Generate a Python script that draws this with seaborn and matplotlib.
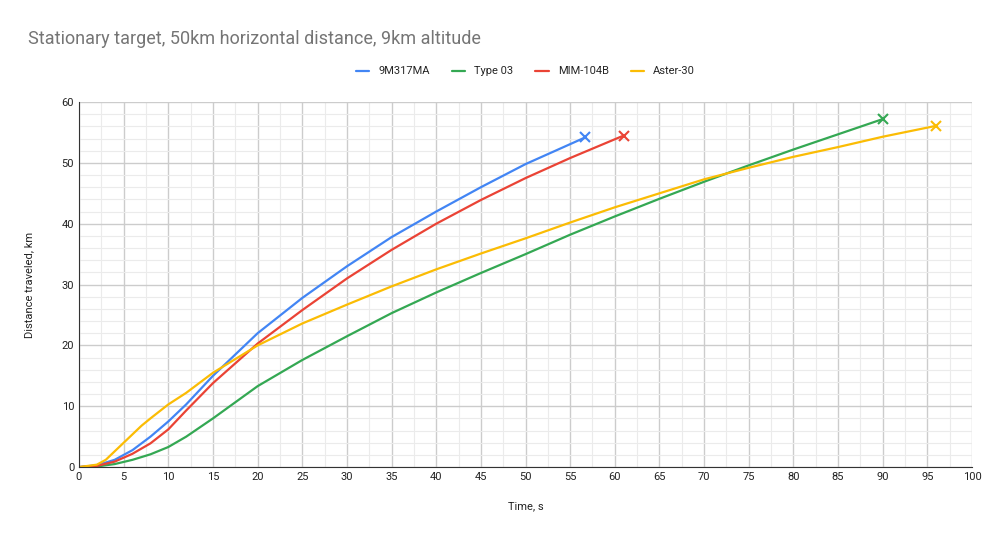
import matplotlib
matplotlib.use("Agg")
import matplotlib.pyplot as plt
import seaborn as sns
import pandas as pd
from matplotlib.ticker import MultipleLocator

t_9m = [0,2,4,6,8,10,12,15,20,25,30,35,40,45,50,56.7]
d_9m = [0,0.3,1.2,2.8,5,7.5,10.3,15,22,27.8,33,37.8,42,46,49.8,54.2]
t_mim = [0,2,4,6,8,10,12,15,20,25,30,35,40,45,50,55,61]
d_mim = [0,0.2,0.9,2.2,3.9,6.2,9.3,13.8,20.3,25.8,31,35.7,40,43.9,47.5,50.8,54.5]
t_t03 = [0,2,4,6,8,10,12,15,20,25,30,35,40,45,50,55,60,65,70,75,80,85,90]
d_t03 = [0,0.1,0.5,1.2,2.1,3.3,5,8,13.3,17.6,21.5,25.3,28.7,31.9,35,38.2,41.2,44.1,46.9,49.6,52.2,54.7,57.2]
t_a30 = [0,2,3,5,7,8,10,12,15,20,25,30,35,40,45,50,55,60,65,70,75,80,85,90,96]
d_a30 = [0,0.4,1.2,4,6.8,8,10.3,12.2,15.5,20,23.6,26.7,29.7,32.5,35.1,37.6,40.2,42.7,45,47.3,49.2,51,52.6,54.3,56.1]

series = [("9M317MA", t_9m, d_9m), ("Type 03", t_t03, d_t03),
          ("MIM-104B", t_mim, d_mim), ("Aster-30", t_a30, d_a30)]
colors = {"9M317MA": "#4285F4", "Type 03": "#34A853", "MIM-104B": "#EA4335", "Aster-30": "#FBBC04"}

df = pd.concat([pd.DataFrame({"t": t, "d": d, "s": n}) for n, t, d in series])

sns.set_style("white")
plt.rcParams['font.family'] = ['Roboto', 'DejaVu Sans']
fig, ax = plt.subplots(figsize=(10, 5.4), dpi=100)
fig.subplots_adjust(left=0.079, right=0.972, top=0.811, bottom=0.135)
sns.lineplot(data=df, x="t", y="d", hue="s", palette=colors, ax=ax, linewidth=1.6, sort=False)
for n, t, d in series:
    ax.plot(t[-1], d[-1], marker="x", color=colors[n], markersize=7, mew=1.5)

ax.set_xlim(0, 100); ax.set_ylim(0, 60)
ax.xaxis.set_major_locator(MultipleLocator(5)); ax.xaxis.set_minor_locator(MultipleLocator(2.5))
ax.yaxis.set_major_locator(MultipleLocator(10)); ax.yaxis.set_minor_locator(MultipleLocator(2))
ax.grid(which="major", color="#cccccc", linewidth=1)
ax.grid(which="minor", color="#ebebeb", linewidth=0.8)
ax.set_axisbelow(True)
for s in ["top", "right"]:
    ax.spines[s].set_visible(False)
for s in ["left", "bottom"]:
    ax.spines[s].set_color("#333333")
ax.tick_params(labelsize=8, colors="#222222", length=0)
ax.set_xlabel("Time, s", fontsize=8, color="#222222", labelpad=14)
ax.set_ylabel("Distance traveled, km", fontsize=8, color="#222222")
ax.yaxis.set_label_coords(-0.05, 0.5)
fig.text(0.028, 0.918, "Stationary target, 50km horizontal distance, 9km altitude", fontsize=13, color="#757575")
ax.legend(loc="upper center", bbox_to_anchor=(0.5, 1.125), ncol=4, frameon=False, fontsize=8,
          handlelength=1.2, columnspacing=2, title=None)
fig.savefig("out.png", dpi=100, facecolor="white")
